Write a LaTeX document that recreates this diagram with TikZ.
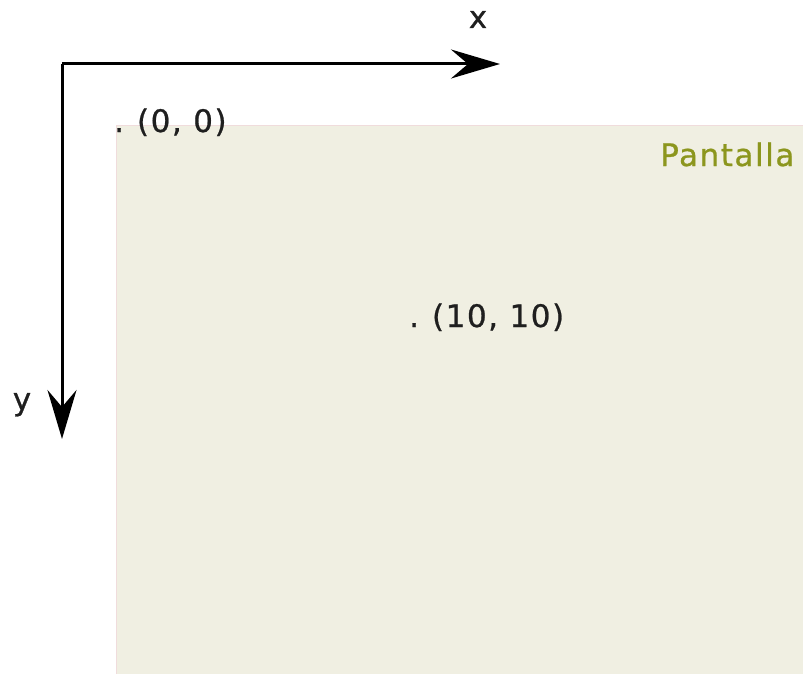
\documentclass[tikz,border=0pt]{standalone}
\usepackage{fontspec}
\setmainfont{DejaVu Sans}[LetterSpace=5,FakeBold=0.8]
\usetikzlibrary{arrows.meta}
\definecolor{screenfill}{RGB}{240,239,226}
\definecolor{screenedge}{RGB}{240,220,220}
\definecolor{olivetext}{RGB}{140,150,30}
\tikzset{
  axis/.style={line width=3pt, -{Stealth[length=49pt,width=29pt,inset=17pt]}},
  lbl/.style={font=\fontsize{31}{36}\selectfont, inner sep=0pt, text=black!88},
}
\newcommand{\dotgap}{.\hspace{13pt}}
\begin{document}
\begin{tikzpicture}[x=1pt,y=-1pt]
\useasboundingbox (0,0) rectangle (803,674);
\fill[screenfill, draw=screenedge, line width=1pt] (116.5,125.5) rectangle (810,680);
\coordinate (o) at (62,64);
\coordinate (xe) at (500,64);
\coordinate (ye) at (62,439);
\draw[axis] (o) -- (xe);
\draw[axis] (o) -- (ye);
\node[lbl, anchor=base] (xl) at (478,28) {x};
\node[lbl, anchor=base] (yl) at (22,410) {y};
\node[lbl, anchor=base west] (p0) at (114,132) {\dotgap(0, 0)};
\node[lbl, anchor=base west] (p10) at (409,327) {\dotgap(10, 10)};
\node[lbl, anchor=base west, text=olivetext] (pant) at (660,166) {Pantalla};
\end{tikzpicture}
\end{document}
